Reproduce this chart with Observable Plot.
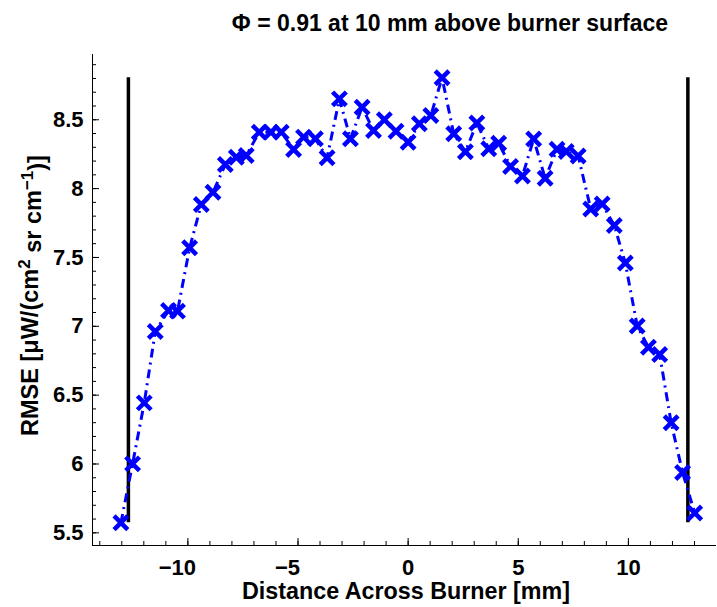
<!DOCTYPE html>
<html>
<head>
<meta charset="utf-8">
<script src="https://cdn.jsdelivr.net/npm/d3@7"></script>
<script src="https://cdn.jsdelivr.net/npm/@observablehq/plot@0.6"></script>
<style>
  html, body { margin: 0; padding: 0; background: white; }
  #chart { width: 717px; height: 607px; }
</style>
</head>
<body>
<div id="chart"></div>
<script>
// Distance across burner [mm]
const distance = [
  -13.04, -12.51, -11.98, -11.48, -10.88, -10.47, -9.92, -9.39, -8.86, -8.30,
  -7.80, -7.35, -6.76, -6.23, -5.76, -5.20, -4.75, -4.21, -3.68, -3.12,
  -2.62, -2.09, -1.57, -1.08, -0.55, 0.00, 0.51, 1.03, 1.54, 2.07,
  2.60, 3.12, 3.66, 4.11, 4.65, 5.19, 5.70, 6.22, 6.76, 7.18,
  7.72, 8.29, 8.81, 9.36, 9.86, 10.40, 10.91, 11.42, 11.94, 12.46,
  13.01
];
// RMSE [µW/(cm^2 sr cm^-1)]
const rmse = [
  5.573, 6.001, 6.444, 6.962, 7.115, 7.110, 7.570, 7.885, 7.974, 8.175,
  8.228, 8.241, 8.410, 8.410, 8.410, 8.284, 8.374, 8.362, 8.224, 8.652,
  8.362, 8.591, 8.422, 8.500, 8.417, 8.337, 8.471, 8.531, 8.805, 8.398,
  8.268, 8.477, 8.289, 8.330, 8.161, 8.092, 8.360, 8.075, 8.286, 8.270,
  8.237, 7.852, 7.888, 7.732, 7.460, 7.002, 6.848, 6.795, 6.300, 5.938,
  5.644
];
// Burner edges [mm]
const burnerEdges = [-12.7, 12.7];

const xMajorTicks = [-10, -5, 0, 5, 10];
const yMajorTicks = [5.5, 6, 6.5, 7, 7.5, 8, 8.5];
const xMinorTicks = d3.range(-14, 14);
const yMinorTicks = d3.range(55, 90).map(d => d / 10);

const titleText = "Φ = 0.91 at 10 mm above burner surface";
const xLabelText = "Distance Across Burner [mm]";

const data = distance.map((x, i) => ({x, y: rmse[i]}));
const yExtent = d3.extent(rmse);

const W = 717, H = 607;
const mL = 92, mR = 1, mT = 54, mB = 62;
const innerW = W - mL - mR, innerH = H - mT - mB;
const xDomain = [-14.33, 14.0];
const yDomain = [5.408, 8.974];

const font = "'Liberation Sans', Arial, Helvetica, sans-serif";

const chart = Plot.plot({
  width: W, height: H,
  marginLeft: mL, marginRight: mR, marginTop: mT, marginBottom: mB,
  style: {fontFamily: font, background: "white", color: "black"},
  x: {domain: xDomain, label: null},
  y: {domain: yDomain, label: null},
  marks: [
    // axis lines
    Plot.ruleY([yDomain[0]], {stroke: "black", strokeWidth: 1}),
    Plot.ruleX([xDomain[0]], {stroke: "black", strokeWidth: 1}),
    // inward ticks
    Plot.tickX(xMinorTicks, {x: d => d, insetTop: innerH - 4, stroke: "black"}),
    Plot.tickX(xMajorTicks, {x: d => d, insetTop: innerH - 7, stroke: "black"}),
    Plot.tickY(yMinorTicks, {y: d => d, insetRight: innerW - 4, stroke: "black"}),
    Plot.tickY(yMajorTicks, {y: d => d, insetRight: innerW - 7, stroke: "black"}),
    // tick labels
    Plot.axisX(xMajorTicks.filter(d => d >= 0), {tickSize: 0, tickPadding: 14, fontSize: 22, fontWeight: "bold", tickFormat: d => String(d), label: null}),
    Plot.axisX(xMajorTicks.filter(d => d < 0), {tickSize: 0, tickPadding: 14, fontSize: 22, fontWeight: "bold", dx: -10.5, tickFormat: d => "\u2212" + Math.abs(d), label: null}),
    Plot.axisY(yMajorTicks, {tickSize: 0, tickPadding: 9, fontSize: 22, fontWeight: "bold", tickFormat: d => String(d), label: null}),
    // burner edge lines
    Plot.ruleX(burnerEdges, {x: d => d, y1: yExtent[0], y2: yExtent[1], stroke: "black", strokeWidth: 3.5}),
    // data
    Plot.line(data, {x: "x", y: "y", stroke: "#0000ff", strokeWidth: 3, strokeDasharray: "9,5,2,5", strokeLinecap: "butt"}),
    Plot.dot(data, {x: "x", y: "y", symbol: "times", r: 6.3, stroke: "#0000ff", strokeWidth: 4.5})
  ]
});

const svg = d3.select(chart);
svg.append("text")
  .attr("x", 450).attr("y", 31)
  .attr("text-anchor", "middle")
  .attr("font-size", 23).attr("font-weight", "bold")
  .attr("fill", "black")
  .text(titleText);

svg.append("text")
  .attr("x", 406).attr("y", 599)
  .attr("text-anchor", "middle")
  .attr("font-size", 23.3).attr("font-weight", "bold")
  .attr("fill", "black")
  .text(xLabelText);

const yl = svg.append("text")
  .attr("transform", `translate(38,${mT + innerH / 2 - 4}) rotate(-90)`)
  .attr("text-anchor", "middle")
  .attr("font-size", 23.5).attr("font-weight", "bold")
  .attr("fill", "black");
yl.append("tspan").text("RMSE [\u03bcW/(cm");
yl.append("tspan").attr("dy", "-0.5em").attr("font-size", 17).text("2");
yl.append("tspan").attr("dy", "0.5em").text(" sr cm");
yl.append("tspan").attr("dy", "-0.5em").attr("font-size", 17).text("\u22121");
yl.append("tspan").attr("dy", "0.5em").text(")]");

document.getElementById("chart").appendChild(chart);
</script>
</body>
</html>
